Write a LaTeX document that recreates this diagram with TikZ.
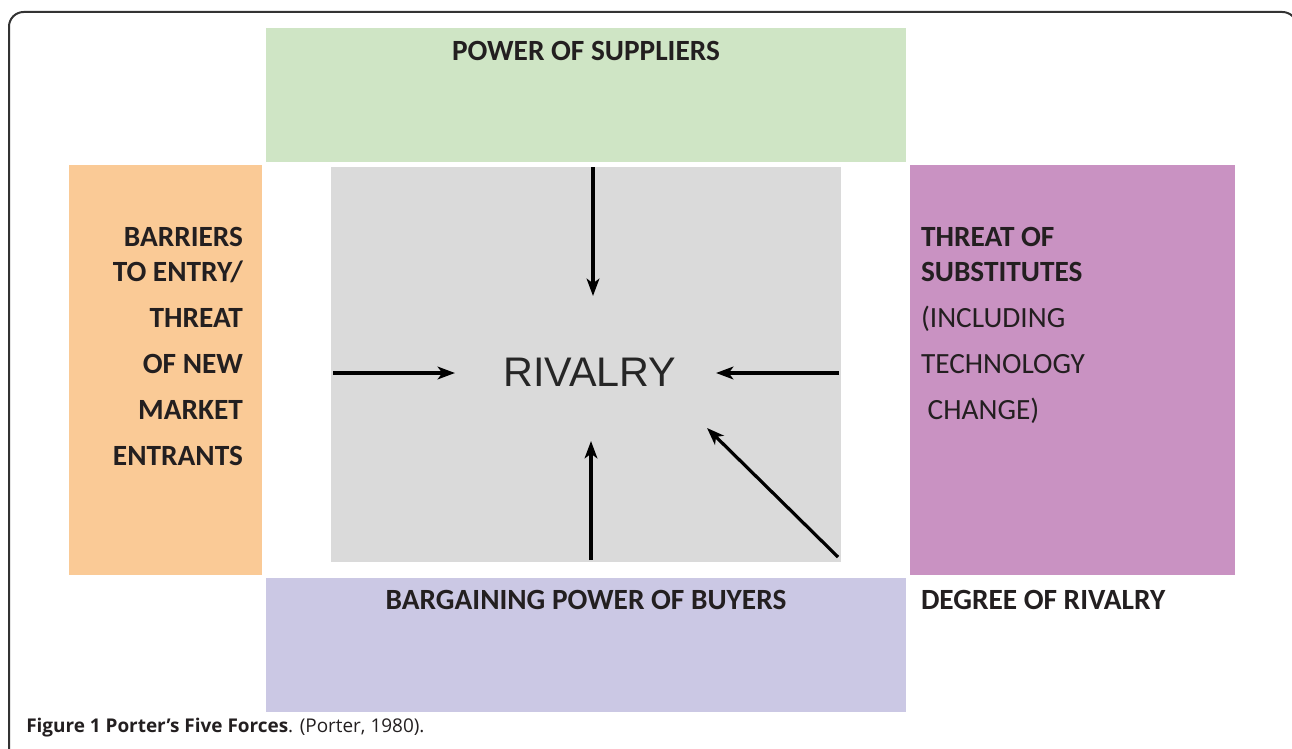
\documentclass[tikz,border=0pt]{standalone}
\usepackage{fontspec}
\setmainfont{Carlito}
\newfontfamily\arialfont{Liberation Sans}
\newfontfamily\capfont{Open Sans}
\usetikzlibrary{arrows.meta}
\definecolor{supgreen}{HTML}{CFE5C5}
\definecolor{entorange}{HTML}{FACA96}
\definecolor{subpurple}{HTML}{C992C2}
\definecolor{buylav}{HTML}{CBC8E4}
\definecolor{rivgray}{HTML}{DADADA}
\definecolor{inktext}{HTML}{231F20}
\definecolor{framegray}{HTML}{333333}
\tikzset{
  panel/.style={draw=none, inner sep=0pt, outer sep=0pt, anchor=center},
  lbl/.style={inner sep=0pt, outer sep=0pt, text=inktext, font=\fontsize{22}{26.25}\selectfont},
  force/.style={line width=2.4pt, black, -{Stealth[length=13pt, width=9.5pt, inset=3.5pt]}},
}
\begin{document}
\begin{tikzpicture}[x=0.75pt, y=-0.75pt]
\useasboundingbox (0,0) rectangle (1292,749);
\begin{scope}
\clip (0,0) rectangle (1292,749);
\draw[framegray, line width=1.5pt, rounded corners=11pt] (9,12) rectangle (1297,790);
\end{scope}
% panels
\node[panel, fill=supgreen, minimum width=480pt, minimum height=100.5pt] (sup) at (586,95) {};
\node[panel, fill=entorange, minimum width=144.75pt, minimum height=307.5pt] (ent) at (165.5,370) {};
\node[panel, fill=subpurple, minimum width=243.75pt, minimum height=307.5pt] (sub) at (1072.5,370) {};
\node[panel, fill=buylav, minimum width=480pt, minimum height=100.5pt] (buy) at (586,645) {};
\node[panel, fill=rivgray, minimum width=382.5pt, minimum height=296.25pt] (riv) at (586,364.5) {};
% labels
\node[lbl, font=\fontsize{22}{26.25}\selectfont\bfseries] (supt) at (586,51) {POWER OF SUPPLIERS};
\node[lbl, font=\fontsize{22}{26.25}\selectfont\bfseries] (buyt) at (586,600) {BARGAINING POWER OF BUYERS};
\node[lbl, font=\fontsize{22}{26.25}\selectfont\bfseries, anchor=west] (degt) at (921,600) {DEGREE OF RIVALRY};
\node[lbl, font=\fontsize{22}{26.25}\selectfont\bfseries, align=right, anchor=north east] (entt) at (243,227)
  {BARRIERS\\TO ENTRY/\\[8.25pt]THREAT\\[8.25pt]OF NEW\\[8.25pt]MARKET\\[8.25pt]ENTRANTS};
\node[lbl, align=left, anchor=north west] (subt) at (921,227)
  {\bfseries THREAT OF\\\bfseries SUBSTITUTES\\[8.25pt](INCLUDING\\[8.25pt]TECHNOLOGY\\[8.25pt]\hspace*{5pt}CHANGE)};
\node[inner sep=0pt, text=black!85, font=\arialfont\fontsize{31}{36}\selectfont] (rivt) at (590,372) {RIVALRY};
% connectors
\coordinate (topS) at (593,167);
\coordinate (topE) at (593,296);
\coordinate (lefS) at (333,373);
\coordinate (lefE) at (455,373);
\coordinate (rigS) at (839,373);
\coordinate (rigE) at (716,373);
\coordinate (botS) at (591,560);
\coordinate (botE) at (591,441);
\coordinate (diaS) at (838,557);
\coordinate (diaE) at (707,428);
\draw[force] (topS) -- (topE);
\draw[force] (lefS) -- (lefE);
\draw[force] (rigS) -- (rigE);
\draw[force] (botS) -- (botE);
\draw[force] (diaS) -- (diaE);
% caption
\node[anchor=base west, inner sep=0pt, text=inktext, font=\capfont\fontsize{14.2}{16}\selectfont] (cap) at (26,732)
  {\textbf{Figure 1 Porter’s Five Forces}. (Porter, 1980).};
\end{tikzpicture}
\end{document}
